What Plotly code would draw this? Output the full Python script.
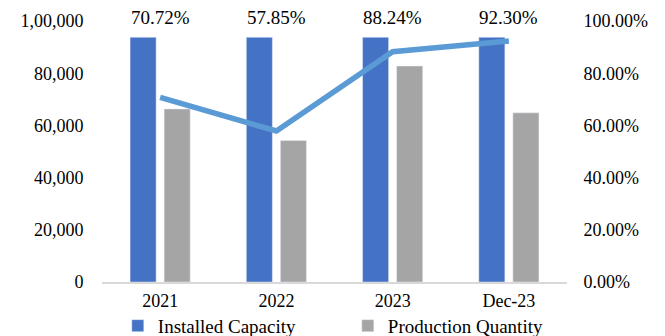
import plotly.graph_objects as go

categories = ["2021", "2022", "2023", "Dec-23"]
installed_capacity = [93750, 93750, 93750, 93750]
production_quantity = [66300, 54200, 82750, 64800]
utilization = [70.72, 57.85, 88.24, 92.30]
utilization_labels = ["70.72%", "57.85%", "88.24%", "92.30%"]

left_tickvals = [0, 20000, 40000, 60000, 80000, 100000]
left_ticktext = ["0", "20,000", "40,000", "60,000", "80,000", "1,00,000"]
right_tickvals = [0, 20, 40, 60, 80, 100]
right_ticktext = ["0.00%", "20.00%", "40.00%", "60.00%", "80.00%", "100.00%"]

FONT = "Liberation Serif"

fig = go.Figure()
fig.add_trace(go.Bar(x=categories, y=installed_capacity, name="Installed Capacity",
                     marker=dict(color="#4472c4")))
fig.add_trace(go.Bar(x=categories, y=production_quantity, name="Production Quantity",
                     marker=dict(color="#a5a5a5")))
fig.add_trace(go.Scatter(x=categories, y=utilization, yaxis="y2", mode="lines",
                         line=dict(color="#5b9bd5", width=5.5), showlegend=False))

for i, t in enumerate(utilization_labels):
    fig.add_annotation(x=i, y=1.0, xref="x", yref="paper", yshift=4, text=t,
                       showarrow=False, yanchor="middle",
                       font=dict(family=FONT, size=19, color="#000"))

fig.update_layout(
    width=665, height=336,
    margin=dict(l=102, r=98, t=21, b=54, autoexpand=False),
    paper_bgcolor="white", plot_bgcolor="white",
    barmode="group", bargap=0.414, bargroupgap=0.235,
    font=dict(family=FONT, size=18, color="#000"),
    xaxis=dict(type="category", showline=True, linecolor="#d9d9d9", linewidth=2,
               showgrid=False, ticks="outside", ticklen=1, tickcolor="rgba(0,0,0,0)"),
    yaxis=dict(range=[0, 100000], tickvals=left_tickvals, ticktext=left_ticktext,
               showgrid=False, zeroline=False, ticks="outside", ticklen=14,
               tickcolor="rgba(0,0,0,0)"),
    yaxis2=dict(range=[0, 100], tickvals=right_tickvals, ticktext=right_ticktext,
                overlaying="y", side="right", showgrid=False, zeroline=False,
                ticks="outside", ticklen=12, tickcolor="rgba(0,0,0,0)"),
    legend=dict(orientation="h", x=0.034, xanchor="left", bgcolor="rgba(0,0,0,0)",
                y=-0.095, yanchor="top", font=dict(size=19), itemwidth=30,
                entrywidth=185),
    showlegend=True,
)

fig.write_html("out.html")
